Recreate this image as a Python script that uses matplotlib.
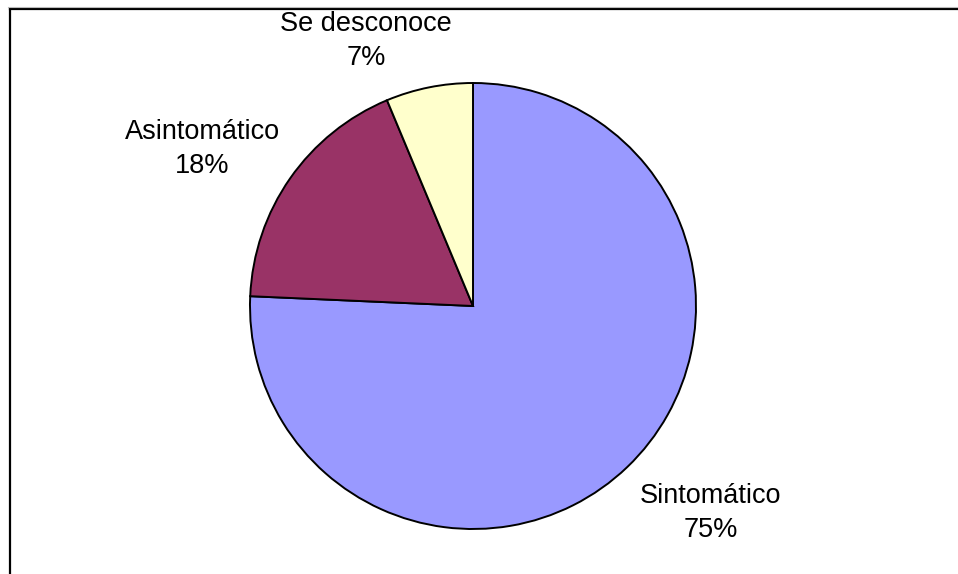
"""Pie chart: distribution of cases by symptom status."""

import matplotlib

matplotlib.use("Agg")
import matplotlib.pyplot as plt
from matplotlib.lines import Line2D

plt.rcParams["font.family"] = ["Liberation Sans", "DejaVu Sans"]

# Slice shares; label text as printed on the chart.
categories = ["Sintomático", "Asintomático", "Se desconoce"]
shares = [75.7, 18.0, 6.3]
pct_labels = ["75%", "18%", "7%"]
colors = ["#9999FF", "#993366", "#FFFFCC"]

# Label anchors in units of pie radius (Excel puts them outside the pie).
label_pos = [(1.067, -0.93), (-1.215, 0.705), (-0.48, 1.19)]

W, H = 958, 574
fig = plt.figure(figsize=(W / 100, H / 100), dpi=100)

# Square axes holding the pie: centre (473, 306) px, radius 223 px.
cx, cy, r = 473, 306, 223
ax = fig.add_axes([(cx - r) / W, (H - cy - r) / H, 2 * r / W, 2 * r / H])
ax.pie(
    shares,
    colors=colors,
    startangle=90,
    counterclock=False,
    radius=1,
    wedgeprops={"edgecolor": "black", "linewidth": 1.4},
)
ax.set_xlim(-1, 1)
ax.set_ylim(-1, 1)
ax.set_aspect("equal")
ax.axis("off")

for name, pct, (x, y) in zip(categories, pct_labels, label_pos):
    ax.text(x, y, f"{name}\n{pct}", ha="center", va="center",
            multialignment="center", fontsize=19.5, linespacing=1.4,
            clip_on=False)

# Chart area frame: only the left and top edges fall inside the picture.
fig.add_artist(Line2D([10 / W, 10 / W], [0, 1 - 9 / H], color="black",
                      linewidth=1.6, transform=fig.transFigure))
fig.add_artist(Line2D([10 / W, 1], [1 - 9 / H, 1 - 9 / H], color="black",
                      linewidth=1.6, transform=fig.transFigure))
fig.add_artist(Line2D([8 / W, 1], [1 - 6.5 / H, 1 - 6.5 / H], color="#BBBBBB",
                      linewidth=0.8, transform=fig.transFigure))

fig.savefig("out.png", dpi=100)
